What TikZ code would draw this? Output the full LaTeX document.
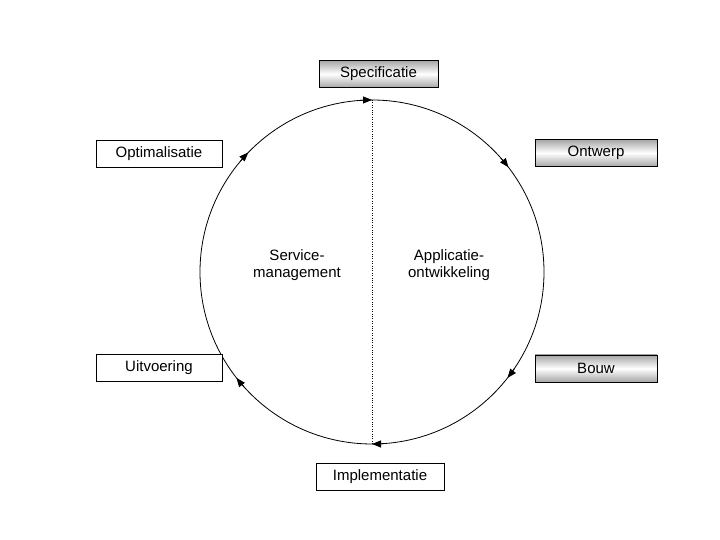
\documentclass[tikz,border=0pt]{standalone}
\usepackage{fontspec}
\setmainfont{Liberation Sans}
\usetikzlibrary{arrows.meta,calc}
\begin{document}
\begin{tikzpicture}[x=1pt,y=1pt,
  gbox/.style={draw,line width=0.8pt,minimum width=119pt,minimum height=27pt,inner sep=0pt,top color=gray!70,bottom color=gray!70,middle color=white,font=\fontsize{15}{17}\selectfont},
  wbox/.style={draw,line width=0.8pt,fill=white,minimum width=126pt,minimum height=27pt,inner sep=0pt,font=\fontsize{15}{17}\selectfont},
  lbl/.style={align=center,font=\fontsize{15}{17}\selectfont}]
\useasboundingbox (0,0) rectangle (720,540);
\coordinate (c) at (372,268);
\coordinate (top) at (372,440);
\coordinate (bot) at (372,96);
\draw[line width=0.8pt] (c) circle (172);
\draw[dotted] (top) -- (bot);
\foreach \a in {90,37.5,-38,-90,-142,136}{
  \draw[line width=0.8pt,-{Triangle[length=9pt,width=7pt]}] ($(c)+(\a+4:172)$) arc (\a+4:\a:172);
}
\node[gbox] (spec) at (378.5,466) {Specificatie};
\node[gbox,minimum width=122pt] (ontw) at (596,387) {Ontwerp};
\node[gbox,minimum width=122pt] (bouw) at (596,171.5) {Bouw};
\node[wbox] (opt) at (159,386.5) {Optimalisatie};
\node[wbox] (uitv) at (159,172) {Uitvoering};
\node[wbox,minimum width=128pt] (impl) at (380,63.5) {Implementatie};
\node[lbl] (sm) at (297,275) {Service-\\management};
\node[lbl] (ao) at (449,275) {Applicatie-\\ontwikkeling};
\end{tikzpicture}
\end{document}
